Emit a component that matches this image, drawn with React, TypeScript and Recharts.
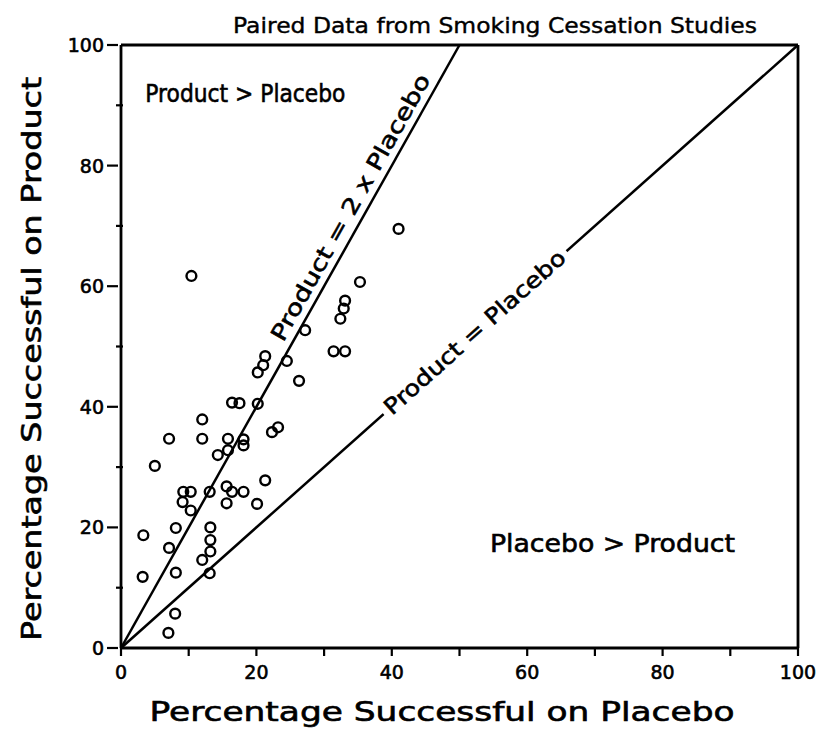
import React from 'react';
import { ScatterChart, Scatter, XAxis, YAxis, ReferenceLine, ReferenceDot } from 'recharts';

// Percentage successful on placebo (x) and on product (y), one entry per study
const placebo = [
  10.4, 41.0, 35.3, 33.1, 32.9, 32.4, 27.2, 31.4, 33.1, 21.3,
  21.0, 20.2, 24.5, 26.3, 16.4, 17.5, 20.2, 12.0, 7.1, 12.0,
  15.8, 15.8, 14.3, 18.1, 18.1, 23.2, 22.3, 5.0, 21.3, 9.2,
  10.3, 13.1, 15.6, 16.4, 18.1, 9.1, 15.6, 20.1, 10.3, 8.1,
  3.3, 13.2, 13.2, 7.1, 13.2, 12.0, 3.2, 8.1, 13.1, 8.0,
  7.0,
];
const product = [
  61.7, 69.5, 60.7, 57.6, 56.3, 54.6, 52.7, 49.2, 49.2, 48.4,
  46.9, 45.7, 47.6, 44.3, 40.7, 40.6, 40.5, 37.9, 34.7, 34.7,
  34.7, 32.8, 32.0, 34.6, 33.6, 36.6, 35.8, 30.2, 27.8, 25.9,
  25.9, 25.9, 26.8, 25.9, 25.9, 24.2, 24.0, 23.9, 22.8, 19.9,
  18.7, 20.0, 17.9, 16.6, 16.0, 14.6, 11.8, 12.5, 12.4, 5.7,
  2.5,
];
const axisTicks = [0, 10, 20, 30, 40, 50, 60, 70, 80, 90, 100];
const labelledTicks = [0, 20, 40, 60, 80, 100];

const title = 'Paired Data from Smoking Cessation Studies';
const xTitle = 'Percentage Successful on Placebo';
const yTitle = 'Percentage Successful on Product';

const points = placebo.map((x, i) => ({ x, y: product[i] }));

const FONT = '"DejaVu Sans", Verdana, sans-serif';
const W = 832;
const H = 738;
const LEFT = 121;
const RIGHT = 798;
const TOP = 45;
const BOTTOM = 648;
const PW = RIGHT - LEFT;
const PH = BOTTOM - TOP;
const ANG1 = -(Math.atan2(PH, PW) * 180) / Math.PI;
const ANG2 = -(Math.atan2(PH, PW / 2) * 180) / Math.PI;
const INK = { fill: '#000', stroke: '#000', strokeWidth: 0.6 };

const OpenCircle = (p: any) => (
  <circle cx={p.cx} cy={p.cy} r={4.9} fill="none" stroke="#000" strokeWidth={2.4} />
);

const YTick = (p: any) => {
  const v = p.payload.value;
  const major = labelledTicks.includes(v);
  return (
    <g>
      <line x1={major ? LEFT - 14 : LEFT - 5} x2={major ? LEFT - 3 : LEFT + 2} y1={p.y} y2={p.y} stroke="#000" strokeWidth={2.2} />
      {major && (
        <text x={LEFT - 17} y={p.y} dy={7} textAnchor="end" fontFamily={FONT} fontSize={19} {...INK}>
          {String(v)}
        </text>
      )}
    </g>
  );
};

const XTick = (p: any) => {
  const v = p.payload.value;
  const major = labelledTicks.includes(v);
  return (
    <g>
      <line x1={p.x} x2={p.x} y1={BOTTOM} y2={BOTTOM + 8} stroke="#000" strokeWidth={2.2} />
      {major && (
        <text x={p.x} y={BOTTOM + 31} textAnchor="middle" fontFamily={FONT} fontSize={19} {...INK}>
          {String(v)}
        </text>
      )}
    </g>
  );
};

const lineLabel = (text: string, angle: number, dy: number, len: number, knock: boolean) => (p: any) => (
  <g transform={`translate(${p.cx},${p.cy}) rotate(${angle})`}>
    {knock && <rect x={-len / 2 - 5} y={-11} width={len + 10} height={22} fill="#fff" />}
    <text
      x={0}
      y={dy}
      textAnchor="middle"
      fontFamily={FONT}
      fontSize={22}
      {...INK}
      textLength={len}
      lengthAdjust="spacingAndGlyphs"
    >
      {text}
    </text>
  </g>
);

const regionLabel = (text: string, len: number) => (p: any) => (
  <text
    x={p.cx}
    y={p.cy}
    fontFamily={FONT}
    fontSize={24}
    {...INK}
    textLength={len}
    lengthAdjust="spacingAndGlyphs"
  >
    {text}
  </text>
);

const XLabel = () => (
  <text
    x={442}
    y={721}
    textAnchor="middle"
    fontFamily={FONT}
    fontSize={26}
    {...INK}
    textLength={585}
    lengthAdjust="spacingAndGlyphs"
  >
    {xTitle}
  </text>
);

const YLabel = () => (
  <text
    transform="translate(41,359) rotate(-90)"
    x={0}
    y={0}
    textAnchor="middle"
    fontFamily={FONT}
    fontSize={26}
    {...INK}
    textLength={564}
    lengthAdjust="spacingAndGlyphs"
  >
    {yTitle}
  </text>
);

export default function App() {
  return (
    <div style={{ position: 'absolute', left: 0, top: 0, width: W, height: H, background: '#fff' }}>
      <svg
        width={W}
        height={40}
        style={{ position: 'absolute', left: 0, top: 0, pointerEvents: 'none' }}
      >
        <text
          x={495}
          y={33}
          textAnchor="middle"
          fontFamily={FONT}
          fontSize={22}
          {...INK}
          strokeWidth={0.4}
          textLength={524}
          lengthAdjust="spacingAndGlyphs"
        >
          {title}
        </text>
      </svg>
      <ScatterChart
        width={W}
        height={H}
        margin={{ top: TOP, right: W - RIGHT, bottom: 0, left: 0 }}
        style={{ position: 'absolute', left: 0, top: 0 }}
      >
        <XAxis
          type="number"
          dataKey="x"
          domain={[0, 100]}
          ticks={axisTicks}
          interval={0}
          height={H - BOTTOM}
          axisLine={{ stroke: '#000', strokeWidth: 2.8 }}
          tickLine={false}
          tickSize={0}
          tick={XTick}
          label={XLabel}
          allowDataOverflow
        />
        <YAxis
          type="number"
          dataKey="y"
          domain={[0, 100]}
          ticks={axisTicks}
          interval={0}
          width={LEFT}
          axisLine={{ stroke: '#000', strokeWidth: 2.8 }}
          tickLine={false}
          tickSize={0}
          tick={YTick}
          label={YLabel}
          allowDataOverflow
        />
        <ReferenceLine y={100} stroke="#000" strokeWidth={2.8} ifOverflow="visible" />
        <ReferenceLine x={100} stroke="#000" strokeWidth={2.8} ifOverflow="visible" />
        <ReferenceLine
          segment={[{ x: 0, y: 0 }, { x: 100, y: 100 }]}
          stroke="#000"
          strokeWidth={2.5}
          ifOverflow="visible"
        />
        <ReferenceLine
          segment={[{ x: 0, y: 0 }, { x: 50, y: 100 }]}
          stroke="#000"
          strokeWidth={2.5}
          ifOverflow="visible"
        />
        <ReferenceDot
          x={52.3}
          y={52.3}
          r={0}
          ifOverflow="visible"
          shape={lineLabel('Product = Placebo', ANG1, 7, 235, true)}
        />
        <ReferenceDot
          x={35.9}
          y={71.8}
          r={0}
          ifOverflow="visible"
          shape={lineLabel('Product = 2 x Placebo', ANG2, -8, 302, false)}
        />
        <ReferenceDot x={3.6} y={90.5} r={0} ifOverflow="visible" shape={regionLabel('Product > Placebo', 200)} />
        <ReferenceDot x={54.5} y={16} r={0} ifOverflow="visible" shape={regionLabel('Placebo > Product', 245)} />
        <Scatter data={points} shape={OpenCircle} isAnimationActive={false} />
      </ScatterChart>
    </div>
  );
}
